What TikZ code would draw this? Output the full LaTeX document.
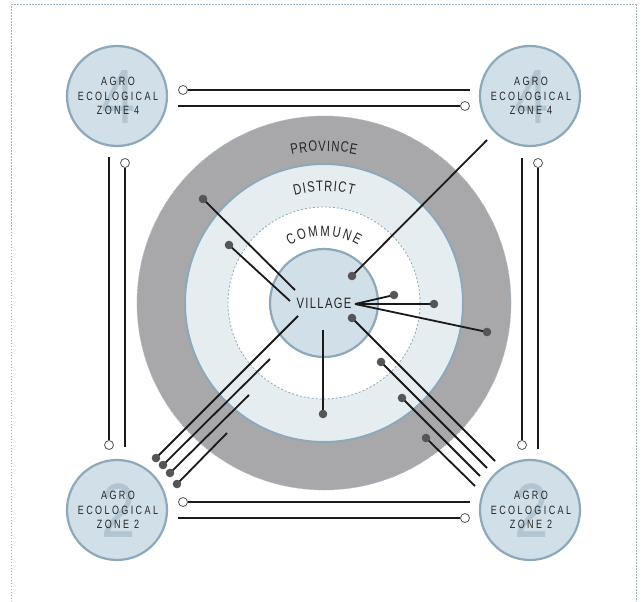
\documentclass[tikz,border=0pt]{standalone}
\usepackage{fontspec}
\setmainfont{Liberation Sans}
\newfontfamily\condfont[FakeStretch=0.75]{Liberation Sans}
\newfontfamily\zonefont[FakeStretch=0.75,LetterSpace=20]{Liberation Sans}
\newfontfamily\vilfont[FakeStretch=0.75,LetterSpace=9]{Liberation Sans}
\newfontfamily\digfont[FakeStretch=0.8]{Liberation Sans}
\definecolor{zonefill}{HTML}{D1DFE8}
\definecolor{ringedge}{HTML}{8DA8B9}
\definecolor{distfill}{HTML}{E6EDF1}
\definecolor{provfill}{HTML}{A8A8AB}
\definecolor{provedge}{HTML}{A9BBC6}
\definecolor{framec}{HTML}{9DB4C4}
\definecolor{dotc}{HTML}{555557}
\definecolor{linec}{HTML}{1A1A1A}
\definecolor{txt}{HTML}{262626}
\definecolor{digitc}{HTML}{B3C5D1}
\tikzset{
  zone/.style={circle, minimum size=100pt, inner sep=0pt, fill=zonefill, draw=ringedge, line width=2.2pt},
  zonetext/.style={align=center, inner sep=0pt, font=\zonefont\fontsize{12}{14.5}\selectfont, text=txt},
  digit/.style={inner sep=0pt, font=\digfont\fontsize{77}{77}\selectfont, text=digitc},
  conn/.style={line width=1.8pt, draw=linec},
  fdot/.style={circle, fill=dotc, inner sep=0pt, minimum size=8.6pt},
  odot/.style={circle, fill=white, draw=dotc, line width=0.8pt, inner sep=0pt, minimum size=9pt},
  ltr/.style={inner sep=0pt, font=\condfont\fontsize{15}{15}\selectfont, text=txt},
  framestyle/.style={draw=framec, line width=1pt, dash pattern=on 1.5pt off 1.5pt},
}
\begin{document}
\begin{tikzpicture}[x=1pt,y=-1pt]
\useasboundingbox (0,0) rectangle (643,602);
\fill[white] (0,0) rectangle (643,602);
\draw[framestyle] (11,602) -- (11,5) -- (636,5) -- (636,602);
\coordinate (C) at (324,303);
% rings
\node[circle, inner sep=0pt, minimum size=374pt, fill=provfill, draw=provedge, line width=0.7pt, dash pattern=on 1.2pt off 1.2pt] (prov) at (C) {};
\node[circle, inner sep=0pt, minimum size=278pt, fill=distfill, draw=ringedge, line width=2pt] (dist) at (C) {};
\node[circle, inner sep=0pt, minimum size=192pt, fill=white, draw=ringedge, line width=0.8pt, dash pattern=on 2pt off 2pt] (comm) at (C) {};
\node[circle, inner sep=0pt, minimum size=108pt, fill=zonefill, draw=ringedge, line width=2.2pt] (vil) at (C) {};
\node[inner sep=0pt, font=\vilfont\fontsize{15}{15}\selectfont, text=txt] (viltext) at (324,303) {VILLAGE};
% curved labels
\foreach \ch/\ang [count=\i] in {P/100.86,R/97.58,O/94.07,V/90.67,I/88.30,N/85.82,C/82.42,E/79.14}
  \node[ltr, rotate=\ang-90] (provl\i) at ([shift={(\ang:157pt)}]C) {\ch};
\foreach \ch/\ang [count=\i] in {D/103.19,I/99.73,S/96.41,T/92.18,R/87.81,I/84.34,C/80.88,T/76.49}
  \node[ltr, rotate=\ang-90] (distl\i) at ([shift={(\ang:117pt)}]C) {\ch};
\foreach \ch/\ang [count=\i] in {C/117.33,O/108.3,M/98.79,M/89.02,U/79.75,N/70.98,E/62.47}
  \node[ltr, rotate=\ang-90] (comml\i) at ([shift={(\ang:72pt)}]C) {\ch};
% zones
\foreach \n/\x/\y/\d in {1/117/96/4, 2/530/96/4, 3/117/510/2, 4/530/510/2}{
  \node[zone] (z\n) at (\x,\y) {};
  \node[digit] (z\n d) at (\x+2,\y+1) {\d};
  \node[zonetext] (z\n t) at (\x+1,\y) {AGRO\\ECOLOGICAL\\ZONE \d};
}
% outer connectors
\node[odot] (o1) at (183,90) {};   \coordinate (c1) at (470,90);
\coordinate (c2) at (178,106);     \node[odot] (o2) at (465,106) {};
\node[odot] (o3) at (183,502) {};  \coordinate (c3) at (470,502);
\coordinate (c4) at (178,518);     \node[odot] (o4) at (465,518) {};
\coordinate (c5) at (109,157);     \node[odot] (o5) at (109,445) {};
\node[odot] (o6) at (125,163) {};  \coordinate (c6) at (125,447);
\coordinate (c7) at (522,158);     \node[odot] (o7) at (522,445) {};
\node[odot] (o8) at (538,163) {};  \coordinate (c8) at (538,449);
\draw[conn] (o1) -- (c1);
\draw[conn] (c2) -- (o2);
\draw[conn] (o3) -- (c3);
\draw[conn] (c4) -- (o4);
\draw[conn] (c5) -- (o5);
\draw[conn] (o6) -- (c6);
\draw[conn] (c7) -- (o7);
\draw[conn] (o8) -- (c8);
% inner connectors
\coordinate (v) at (355,304);
\coordinate (e1) at (487,140);  \coordinate (d1) at (352,276);
\coordinate (e2) at (295,290);  \coordinate (d2) at (203,199);
\coordinate (e3) at (290,301);  \coordinate (d3) at (229,245);
\coordinate (d4) at (394,295);
\coordinate (d5) at (434,304);
\coordinate (d6) at (487,332);
\coordinate (d7) at (352,318);  \coordinate (e7) at (495,461);
\coordinate (d8) at (381,362);  \coordinate (e8) at (487,468);
\coordinate (d9) at (402,398);  \coordinate (e9) at (480,476);
\coordinate (d10) at (426,438); \coordinate (e10) at (475,486);
\coordinate (e11) at (323,330); \coordinate (d11) at (323,414);
\coordinate (e12) at (298,316); \coordinate (d12) at (156,458);
\coordinate (e13) at (270,359); \coordinate (d13) at (163,465);
\coordinate (e14) at (249,395); \coordinate (d14) at (170,473);
\coordinate (e15) at (227,433); \coordinate (d15) at (177,484);
\foreach \a/\b in {e1/d1, e2/d2, e3/d3, v/d4, v/d5, v/d6, d7/e7, d8/e8, d9/e9, d10/e10, e11/d11, e12/d12, e13/d13, e14/d14, e15/d15}
  \draw[conn] (\a) -- (\b);
\foreach \k in {d1,d2,d3,d4,d5,d6,d7,d8,d9,d10,d11,d12,d13,d14,d15}
  \node[fdot] (\k n) at (\k) {};
\end{tikzpicture}
\end{document}
